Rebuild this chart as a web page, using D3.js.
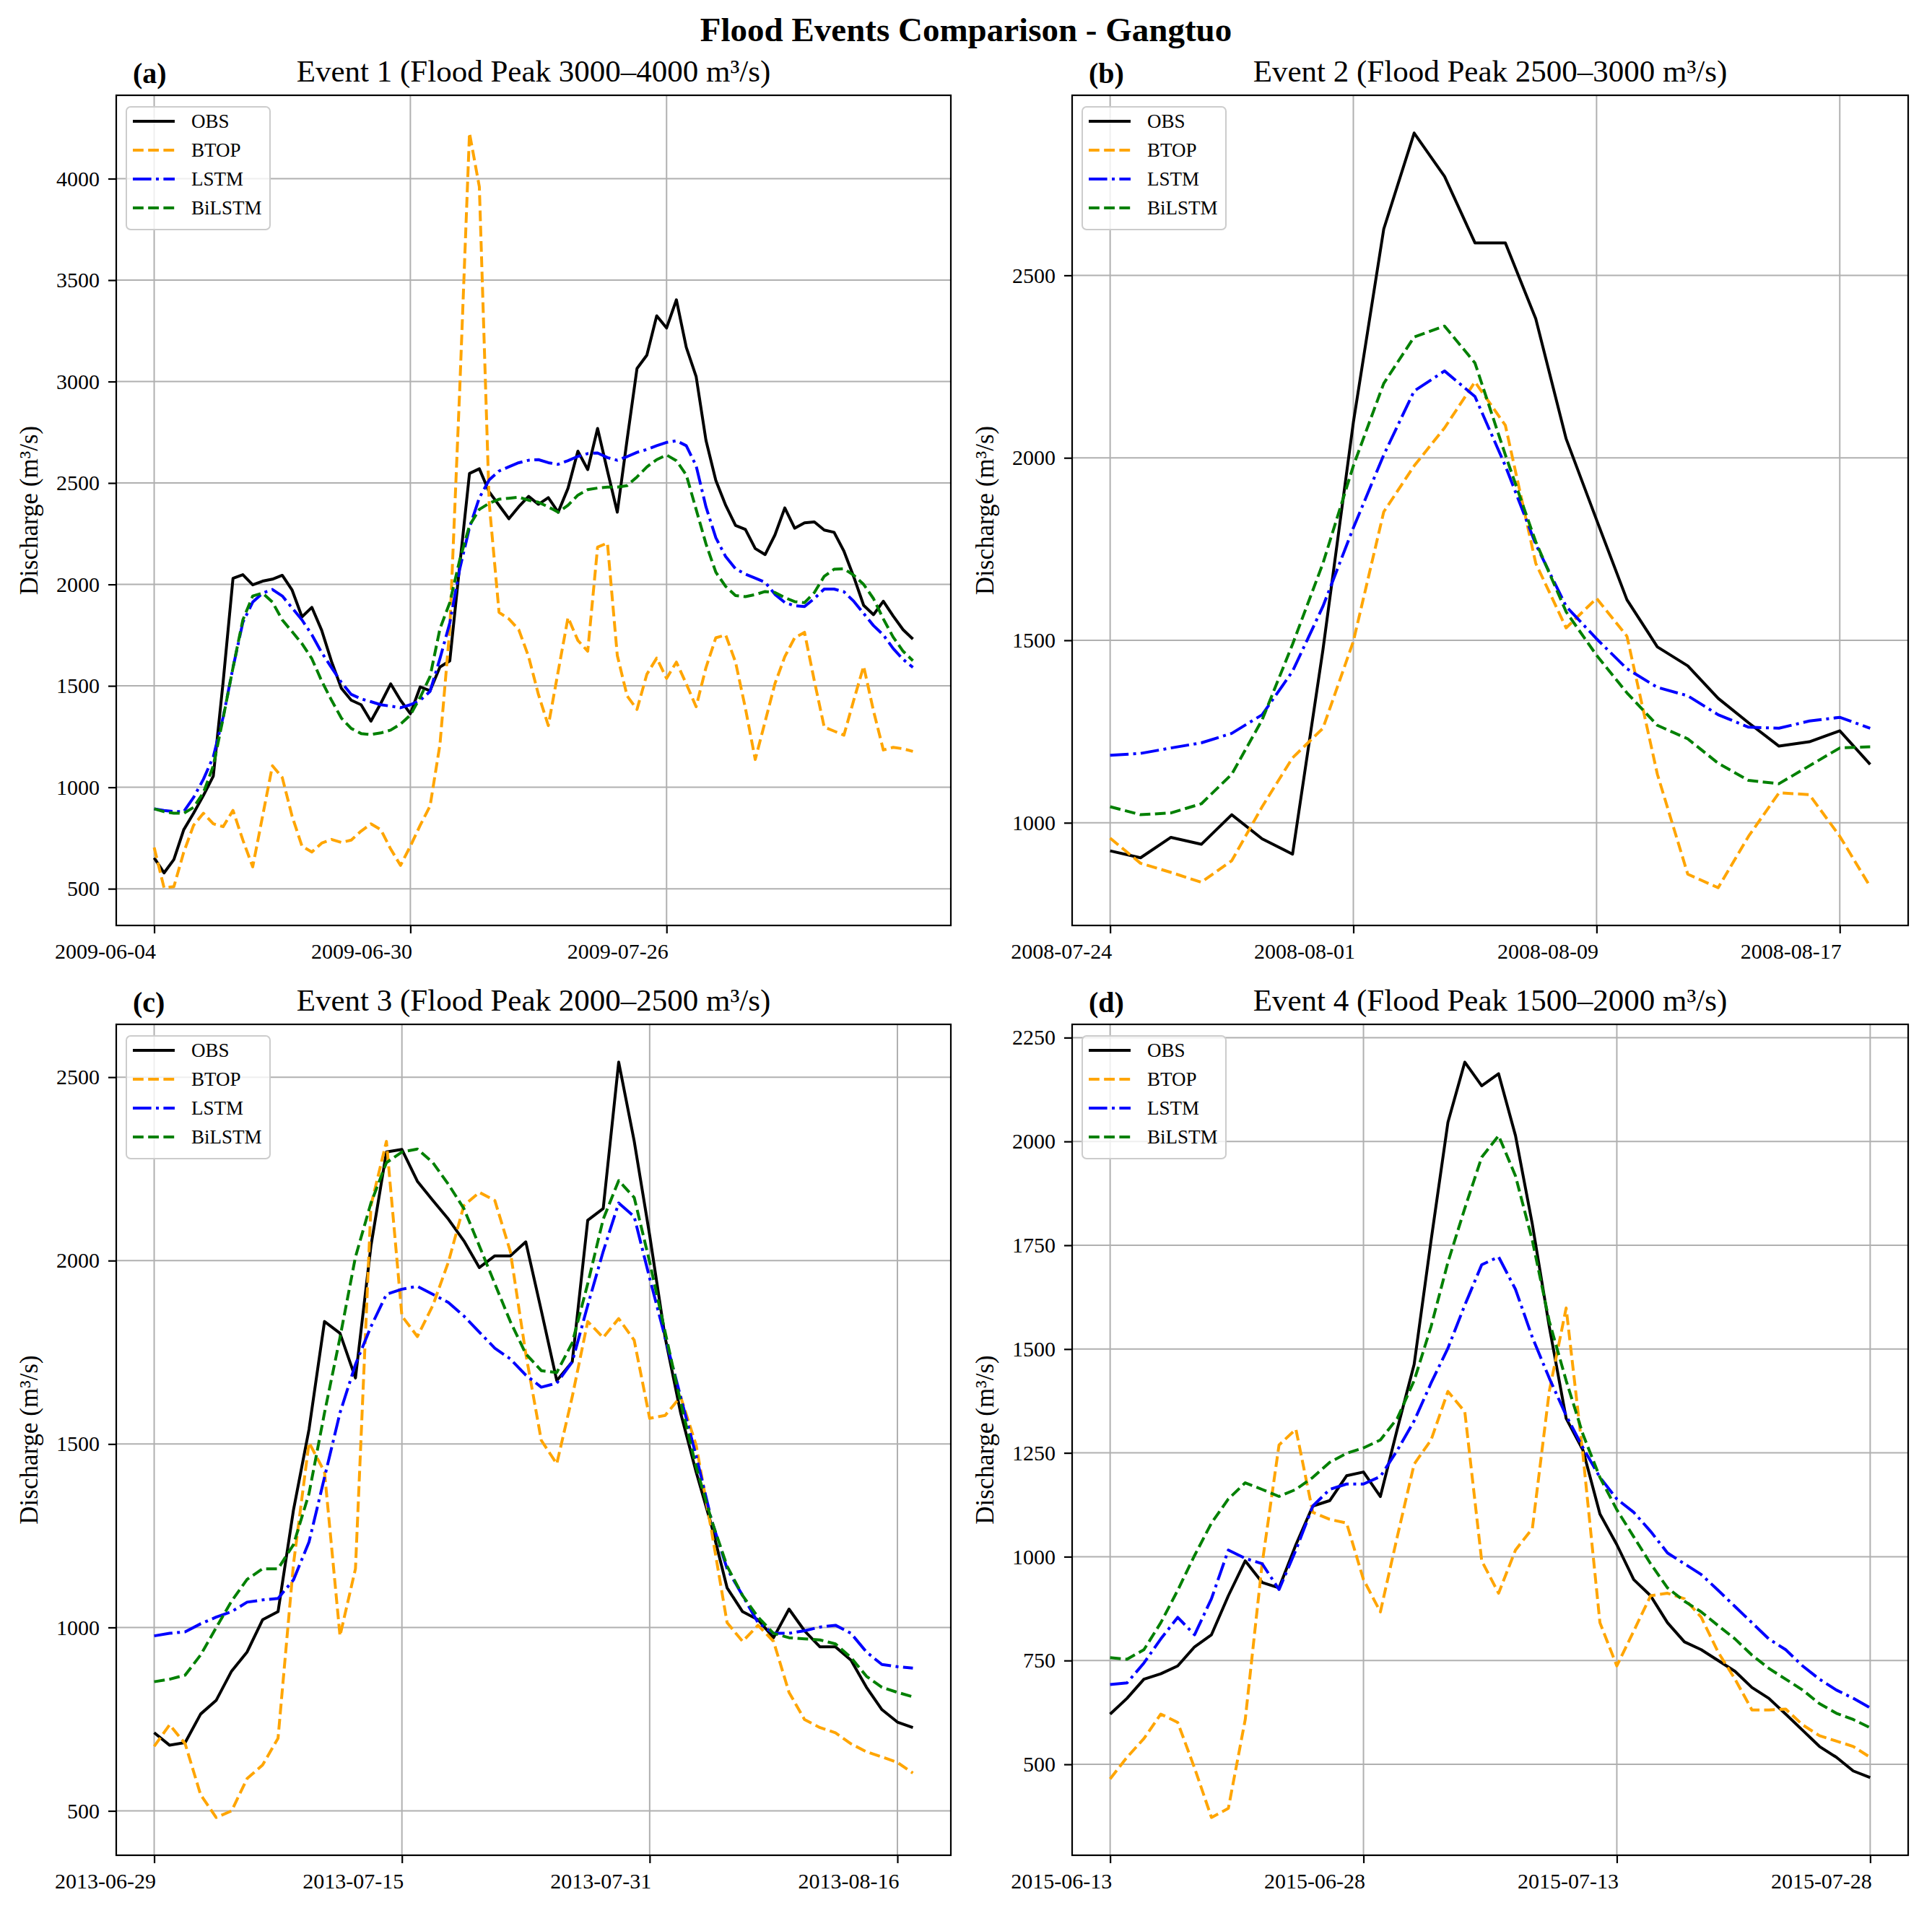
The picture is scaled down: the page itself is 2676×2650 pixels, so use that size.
<!DOCTYPE html>
<html>
<head>
<meta charset="utf-8">
<script src="https://cdn.jsdelivr.net/npm/d3@7"></script>
<style>
  body { margin: 0; background: #fff; }
  svg { display: block; }
</style>
</head>
<body>
<div id="chart"></div>
<script>
'use strict';

// ---- data (daily discharge, m³/s) ----

const event1Start = "2009-06-04";
const event1Obs = [652,578,644,791,872,960,1055,1520,2030,2048,
  1998,2016,2026,2045,1972,1840,1887,1774,1620,1488,
  1429,1407,1326,1414,1510,1429,1363,1495,1476,1593,
  1623,2090,2547,2570,2456,2390,2324,2383,2434,2395,
  2428,2356,2474,2657,2566,2769,2560,2356,2715,3064,
  3130,3324,3264,3403,3169,3025,2710,2513,2390,2291,
  2271,2177,2147,2244,2377,2277,2304,2308,2268,2257,
  2164,2037,1897,1851,1917,1844,1777,1731];
const event1Btop = [703,505,510,680,813,872,820,806,886,740,
  608,857,1106,1048,857,710,681,725,743,728,
  740,784,820,791,696,615,710,813,908,1210,
  1780,2950,4225,3960,2400,1862,1830,1777,1644,1457,
  1304,1571,1837,1724,1671,2184,2204,1650,1450,1384,
  1557,1637,1537,1617,1510,1397,1590,1737,1751,1617,
  1390,1137,1324,1511,1644,1737,1764,1524,1297,1277,
  1257,1430,1597,1377,1184,1197,1190,1177];
const event1Lstm = [894,886,880,880,950,1040,1150,1346,1590,1813,
  1913,1957,1975,1943,1884,1825,1752,1664,1590,1517,
  1458,1436,1422,1407,1400,1392,1407,1429,1473,1634,
  1810,2074,2280,2427,2515,2559,2580,2600,2612,2615,
  2600,2592,2610,2631,2645,2648,2625,2612,2630,2651,
  2665,2684,2700,2708,2684,2585,2382,2230,2137,2077,
  2051,2031,2011,1951,1911,1895,1891,1931,1977,1977,
  1964,1917,1857,1797,1751,1684,1631,1591];
const event1Bilstm = [894,880,872,872,901,974,1106,1341,1590,1825,
  1943,1957,1913,1825,1767,1708,1634,1524,1429,1341,
  1290,1265,1260,1268,1282,1312,1356,1444,1546,1781,
  1910,2119,2290,2370,2400,2420,2425,2430,2415,2405,
  2382,2356,2390,2440,2467,2475,2480,2480,2487,2530,
  2579,2615,2638,2610,2540,2370,2200,2060,1990,1945,
  1940,1950,1965,1960,1935,1915,1910,1960,2040,2075,
  2077,2045,2000,1930,1830,1740,1671,1624];
const event1Ticks = ["2009-06-04", "2009-06-30", "2009-07-26"];
const event1YTicks = [500, 1000, 1500, 2000, 2500, 3000, 3500, 4000];

const event2Start = "2008-07-24";
const event2Obs = [923,904,960,941,1022,956,914,1474,2097,2627,
  2890,2771,2589,2589,2381,2052,1830,1611,1482,1430,
  1341,1274,1210,1222,1252,1160];
const event2Btop = [958,889,864,837,896,1044,1178,1259,1497,1852,
  1978,2082,2208,2089,1711,1534,1615,1511,1133,859,
  822,963,1082,1077,963,825];
const event2Lstm = [1185,1190,1205,1219,1245,1296,1415,1593,1808,2008,
  2183,2238,2168,1978,1763,1593,1504,1422,1371,1348,
  1296,1262,1259,1279,1289,1259];
const event2Bilstm = [1044,1022,1027,1052,1133,1282,1489,1711,1978,2204,
  2331,2361,2260,2008,1770,1578,1459,1356,1267,1230,
  1163,1116,1107,1156,1205,1208];
const event2Ticks = ["2008-07-24", "2008-08-01", "2008-08-09", "2008-08-17"];
const event2YTicks = [1000, 1500, 2000, 2500];

const event3Start = "2013-06-29";
const event3Obs = [713,679,686,764,801,881,933,1021,1043,1321,
  1540,1834,1802,1680,2040,2296,2303,2216,2164,2113,
  2054,1981,2013,2013,2051,1864,1673,1724,2110,2142,
  2541,2326,2069,1790,1585,1424,1277,1108,1043,1021,
  972,1050,991,947,947,911,837,776,742,727];
const event3Btop = [676,735,683,544,482,500,588,625,698,1174,
  1504,1424,977,1160,2150,2325,1849,1793,1878,1996,
  2150,2186,2164,2025,1746,1510,1446,1629,1834,1790,
  1842,1783,1570,1578,1629,1497,1262,1013,962,1006,
  962,823,749,727,713,683,661,647,632,603];
const event3Lstm = [977,984,988,1010,1028,1043,1069,1075,1079,1130,
  1233,1409,1585,1717,1820,1908,1922,1930,1908,1886,
  1849,1805,1761,1732,1688,1655,1666,1724,1878,2025,
  2157,2120,1952,1790,1629,1468,1292,1160,1087,1013,
  984,984,991,1001,1006,984,933,899,893,889];
const event3Bilstm = [852,859,870,925,999,1072,1131,1160,1160,1226,
  1365,1585,1790,2010,2157,2267,2296,2304,2267,2208,
  2142,2040,1937,1834,1746,1700,1695,1776,1937,2113,
  2218,2172,1996,1805,1614,1438,1292,1167,1087,1028,
  984,972,969,966,955,918,867,837,823,811];
const event3Ticks = ["2013-06-29", "2013-07-15", "2013-07-31", "2013-08-16"];
const event3YTicks = [500, 1000, 1500, 2000, 2500];

const event4Start = "2015-06-13";
const event4Obs = [621,659,705,718,737,783,812,906,990,938,
  925,1029,1122,1135,1195,1204,1145,1307,1463,1761,
  2046,2191,2134,2163,2014,1800,1554,1333,1256,1103,
  1029,945,906,841,795,776,750,724,685,659,
  621,582,543,517,484,468];
const event4Btop = [465,517,562,621,601,491,372,394,608,983,
  1269,1307,1107,1090,1081,945,867,1048,1223,1281,
  1398,1349,990,912,1016,1068,1398,1599,1243,841,
  737,821,906,912,899,854,770,705,631,631,
  633,595,569,556,543,517];
const event4Lstm = [692,696,744,802,854,812,899,1016,996,983,
  921,1016,1122,1162,1175,1175,1193,1256,1327,1418,
  1502,1606,1703,1722,1644,1528,1430,1340,1262,1191,
  1139,1107,1061,1009,983,957,919,880,841,802,
  776,737,705,679,659,636];
const event4Bilstm = [757,753,776,841,919,1003,1081,1139,1178,1162,
  1145,1162,1191,1227,1249,1262,1281,1333,1424,1554,
  1709,1839,1962,2014,1917,1761,1567,1424,1294,1191,
  1113,1048,983,925,893,867,834,802,763,731,
  705,679,646,623,608,588];
const event4Ticks = ["2015-06-13", "2015-06-28", "2015-07-13", "2015-07-28"];
const event4YTicks = [500, 750, 1000, 1250, 1500, 1750, 2000, 2250];

const seriesNames = ["OBS", "BTOP", "LSTM", "BiLSTM"];

// ---- styles ----
const FONT = `"Liberation Serif", "Times New Roman", serif`;
const LW = 4;
const Style = {
  OBS:    { color: `black`,   dash: null },
  BTOP:   { color: `#FFA500`, dash: `14.8,6.4` },
  LSTM:   { color: `#0000FF`, dash: `25.6,6.4,4,6.4` },
  BiLSTM: { color: `#008000`, dash: `14.8,6.4` },
};

const width = 2676, height = 2650;
const parseDate = d3.timeParse("%Y-%m-%d");
const fmtDate = d3.timeFormat("%Y-%m-%d");

const panels = [
  { tag: "(a)", title: "Event 1 (Flood Peak 3000\u20134000 m\u00b3/s)", start: event1Start,
    series: [event1Obs, event1Btop, event1Lstm, event1Bilstm], ticks: event1Ticks, yTicks: event1YTicks,
    box: { x: 161, y: 132, w: 1156, h: 1150 } },
  { tag: "(b)", title: "Event 2 (Flood Peak 2500\u20133000 m\u00b3/s)", start: event2Start,
    series: [event2Obs, event2Btop, event2Lstm, event2Bilstm], ticks: event2Ticks, yTicks: event2YTicks,
    box: { x: 1485, y: 132, w: 1158, h: 1150 } },
  { tag: "(c)", title: "Event 3 (Flood Peak 2000\u20132500 m\u00b3/s)", start: event3Start,
    series: [event3Obs, event3Btop, event3Lstm, event3Bilstm], ticks: event3Ticks, yTicks: event3YTicks,
    box: { x: 161, y: 1419, w: 1156, h: 1151 } },
  { tag: "(d)", title: "Event 4 (Flood Peak 1500\u20132000 m\u00b3/s)", start: event4Start,
    series: [event4Obs, event4Btop, event4Lstm, event4Bilstm], ticks: event4Ticks, yTicks: event4YTicks,
    box: { x: 1485, y: 1419, w: 1158, h: 1151 } },
];

const svg = d3.select("#chart")
  .append("svg")
    .attr("width", width)
    .attr("height", height)
    .style("font-family", FONT);

svg.append("rect").attr("width", width).attr("height", height).attr("fill", "white");

// figure title
svg.append("text")
  .attr("x", width / 2)
  .attr("y", 57)
  .attr("text-anchor", "middle")
  .attr("font-size", 47)
  .attr("font-weight", "bold")
  .text("Flood Events Comparison - Gangtuo");

panels.forEach(p => {
  const {x: left, y: top, w, h} = p.box;
  const start = parseDate(p.start);
  const dates = p.series[0].map((_, i) => d3.timeDay.offset(start, i));

  // matplotlib-like 5% margins on both axes
  const t0 = dates[0].getTime(), t1 = dates[dates.length - 1].getTime();
  const tPad = (t1 - t0) * 0.05;
  const x = d3.scaleTime()
    .domain([new Date(t0 - tPad), new Date(t1 + tPad)])
    .range([0, w]);

  const allVals = p.series.flat();
  const [vMin, vMax] = d3.extent(allVals);
  const vPad = (vMax - vMin) * 0.05;
  const y = d3.scaleLinear()
    .domain([vMin - vPad, vMax + vPad])
    .range([h, 0]);

  const g = svg.append("g").attr("transform", `translate(${left},${top})`);

  // grid
  const tickDates = p.ticks.map(parseDate);
  g.append("g")
    .selectAll("line")
    .data(tickDates)
    .join("line")
      .attr("x1", d => x(d)).attr("x2", d => x(d))
      .attr("y1", 0).attr("y2", h)
      .attr("stroke", "#b0b0b0").attr("stroke-width", 2);
  g.append("g")
    .selectAll("line")
    .data(p.yTicks)
    .join("line")
      .attr("x1", 0).attr("x2", w)
      .attr("y1", d => y(d)).attr("y2", d => y(d))
      .attr("stroke", "#b0b0b0").attr("stroke-width", 2);

  // series
  const line = d3.line()
    .x((d, i) => x(dates[i]))
    .y(d => y(d));

  seriesNames.forEach((name, si) => {
    g.append("path")
      .datum(p.series[si])
      .attr("d", line)
      .attr("fill", "none")
      .attr("stroke", Style[name].color)
      .attr("stroke-width", LW)
      .attr("stroke-linejoin", "round")
      .attr("stroke-dasharray", Style[name].dash);
  });

  // axes
  const xAxis = g.append("g")
    .attr("transform", `translate(0,${h})`)
    .call(d3.axisBottom(x).tickValues(tickDates).tickFormat(fmtDate).tickSize(11).tickPadding(14));
  const yAxis = g.append("g")
    .call(d3.axisLeft(y).tickValues(p.yTicks).tickFormat(d3.format("d")).tickSize(11).tickPadding(12));
  [xAxis, yAxis].forEach(ax => {
    ax.select(".domain").remove();
    ax.selectAll("line").attr("stroke", "black").attr("stroke-width", 2.2);
    ax.selectAll("text").attr("font-family", FONT).attr("font-size", 30).attr("fill", "black");
  });
  // date labels sit right-aligned on their tick, as in the source figure
  xAxis.selectAll("text").attr("text-anchor", "end").attr("x", 2);

  // frame
  g.append("rect")
    .attr("width", w).attr("height", h)
    .attr("fill", "none")
    .attr("stroke", "black")
    .attr("stroke-width", 2.2);

  // y label
  g.append("text")
    .attr("transform", `translate(${-121},${h / 2}) rotate(-90)`)
    .attr("text-anchor", "middle")
    .attr("dominant-baseline", "central")
    .attr("font-size", 35)
    .text("Discharge (m\u00b3/s)");

  // titles
  g.append("text")
    .attr("x", w / 2).attr("y", -19)
    .attr("text-anchor", "middle")
    .attr("font-size", 43)
    .text(p.title);
  g.append("text")
    .attr("x", 23).attr("y", -17)
    .attr("font-size", 40)
    .attr("font-weight", "bold")
    .text(p.tag);

  // legend
  const lg = g.append("g").attr("transform", "translate(14,16)");
  lg.append("rect")
    .attr("width", 199).attr("height", 170)
    .attr("rx", 6)
    .attr("fill", "white").attr("fill-opacity", 0.8)
    .attr("stroke", "#cccccc").attr("stroke-width", 2);
  seriesNames.forEach((name, i) => {
    const ly = 20 + 40 * i;
    lg.append("line")
      .attr("x1", 9).attr("x2", 67)
      .attr("y1", ly).attr("y2", ly)
      .attr("stroke", Style[name].color)
      .attr("stroke-width", LW)
      .attr("stroke-dasharray", Style[name].dash);
    lg.append("text")
      .attr("x", 90).attr("y", ly)
      .attr("dominant-baseline", "central")
      .attr("font-size", 27)
      .text(name);
  });
});
</script>
</body>
</html>
